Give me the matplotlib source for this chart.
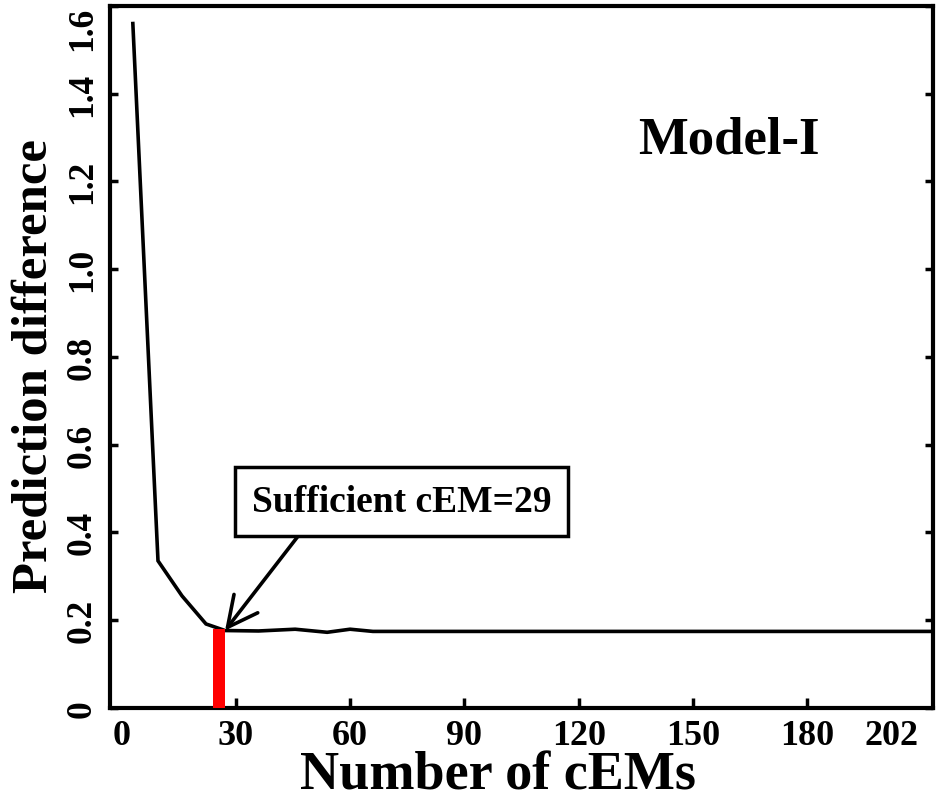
import matplotlib
matplotlib.use('Agg')
import matplotlib.pyplot as plt

# ---- data ----
cems = [3, 9.6, 15.9, 22.2, 27.2, 36, 45.6, 54, 60, 66, 213]
pred_diff = [1.56, 0.335, 0.255, 0.191, 0.176, 0.175, 0.179, 0.172, 0.179, 0.174, 0.174]
x_ticks = [0, 30, 60, 90, 120, 150, 180, 202]
x_tick_labels = ['0', '30', '60', '90', '120', '150', '180', '202']
y_ticks = [0, 0.2, 0.4, 0.6, 0.8, 1.0, 1.2, 1.4, 1.6]
y_tick_labels = ['0', '0.2', '0.4', '0.6', '0.8', '1.0', '1.2', '1.4', '1.6']
sufficient_x = 25.7
sufficient_y = 0.18
arrow_tip = (27.2, 0.176)
annot_text = 'Sufficient cEM=29'
model_name = 'Model-I'

plt.rcParams['font.family'] = ['Liberation Serif', 'DejaVu Serif']
plt.rcParams['font.weight'] = 'bold'

fig = plt.figure(figsize=(9.44, 8.04), dpi=100)
ax = fig.add_axes([0.1165, 0.1185, 0.8719, 0.8728])

ax.plot(cems, pred_diff, color='black', lw=2.6, solid_joinstyle='miter')
ax.bar([sufficient_x], [sufficient_y], width=3.1, color='#ff0000', zorder=3)

ax.set_xlim(-3, 213)
ax.set_ylim(0, 1.6)

ax.set_xticks(x_ticks)
ax.set_xticklabels(x_tick_labels, fontsize=26, fontweight='bold')
ax.set_yticks(y_ticks)
ax.set_yticklabels(y_tick_labels, fontsize=25.5, fontweight='bold',
                   rotation=90, va='center')
ax.get_yticklabels()[-1].set_va('top')

ax.tick_params(axis='x', direction='in', length=7, width=2.5, pad=8,
               top=False)
ax.tick_params(axis='y', direction='in', length=6, width=2.5, pad=8,
               right=True)
xt = ax.xaxis.get_major_ticks()
for t in (xt[0], xt[-1]):
    t.tick1line.set_visible(False)

for sp in ax.spines.values():
    sp.set_linewidth(3)

ax.set_xlabel('Number of cEMs', fontsize=39, fontweight='bold')
ax.xaxis.set_label_coords(0.472, -0.061)
ax.set_ylabel('Prediction difference', fontsize=36.5, fontweight='bold')
ax.yaxis.set_label_coords(-0.064, 0.488)

ax.text(0.752, 0.81, model_name, transform=ax.transAxes, fontsize=38,
        fontweight='bold', ha='center', va='center')

ax.annotate(annot_text, xy=arrow_tip, xytext=(73.5, 0.471),
            textcoords='data', fontsize=27, fontweight='bold',
            ha='center', va='center',
            bbox=dict(boxstyle='square,pad=0.45', fc='white', ec='black',
                      lw=2.5),
            arrowprops=dict(arrowstyle='->,head_length=0.8,head_width=0.4',
                            lw=2.6, color='black', shrinkA=0, shrinkB=0,
                            relpos=(0.2, 0.0)))

fig.savefig('out.png', dpi=100)
